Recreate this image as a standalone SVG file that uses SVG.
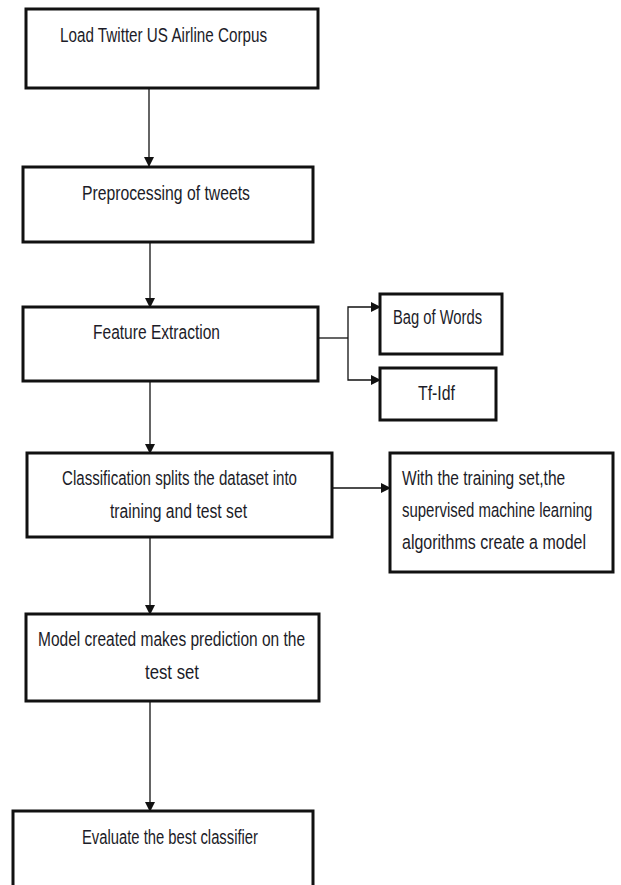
<svg xmlns="http://www.w3.org/2000/svg" width="621" height="885" viewBox="0 0 621 885">
<defs>
<style>
.box{fill:#fff;stroke:#111;stroke-width:3}
.t{font-family:"Liberation Sans",Arial,sans-serif;font-size:19.5px;fill:#1c1c28}
.c{fill:none;stroke:#111;stroke-width:1.3}
</style>
<marker id="ah" markerWidth="10" markerHeight="11" refX="9" refY="5.5" orient="auto" markerUnits="userSpaceOnUse">
<path d="M0,0.5 L10,5.5 L0,10.5 Z" fill="#111"/>
</marker>
</defs>
<rect width="621" height="885" fill="#fff"/>
<g id="connectors">
<line class="c" x1="149" y1="88" x2="149" y2="166" marker-end="url(#ah)"/>
<line class="c" x1="150" y1="242" x2="150" y2="307" marker-end="url(#ah)"/>
<line class="c" x1="150" y1="381" x2="150" y2="453" marker-end="url(#ah)"/>
<polyline class="c" points="318,338 348,338"/>
<polyline class="c" points="348,338 348,307 380,307" marker-end="url(#ah)"/>
<polyline class="c" points="348,338 348,380 380,380" marker-end="url(#ah)"/>
<line class="c" x1="332" y1="488" x2="390" y2="488" marker-end="url(#ah)"/>
<line class="c" x1="150" y1="537" x2="150" y2="614" marker-end="url(#ah)"/>
<line class="c" x1="150" y1="701" x2="150" y2="811" marker-end="url(#ah)"/>
</g>
<g id="load">
<rect class="box" x="26" y="9" width="292" height="79"/>
<text class="t" x="60" y="42" textLength="207" lengthAdjust="spacingAndGlyphs">Load  Twitter US Airline Corpus</text>
</g>
<g id="preprocess">
<rect class="box" x="23" y="167" width="290" height="75"/>
<text class="t" x="82" y="200" textLength="168" lengthAdjust="spacingAndGlyphs">Preprocessing of tweets</text>
</g>
<g id="feature">
<rect class="box" x="23" y="307" width="295" height="74"/>
<text class="t" x="93" y="339" textLength="127" lengthAdjust="spacingAndGlyphs">Feature  Extraction</text>
</g>
<g id="bow">
<rect class="box" x="380" y="294" width="122" height="60"/>
<text class="t" x="393" y="324" textLength="89" lengthAdjust="spacingAndGlyphs">Bag of Words</text>
</g>
<g id="tfidf">
<rect class="box" x="380" y="368" width="116" height="52"/>
<text class="t" x="418" y="400" textLength="37" lengthAdjust="spacingAndGlyphs">Tf-Idf</text>
</g>
<g id="classification">
<rect class="box" x="27" y="453" width="305" height="84"/>
<text class="t" x="62" y="485" textLength="235" lengthAdjust="spacingAndGlyphs">Classification splits the dataset into</text>
<text class="t" x="110" y="518" textLength="137" lengthAdjust="spacingAndGlyphs">training and test set</text>
</g>
<g id="training">
<rect class="box" x="390" y="453" width="223" height="119"/>
<g transform="translate(402,0) scale(0.8,1)">
<text class="t" x="0" y="485" textLength="204" lengthAdjust="spacingAndGlyphs">With the training set,the</text>
<text class="t" x="0" y="517" textLength="238" lengthAdjust="spacingAndGlyphs">supervised machine learning</text>
<text class="t" x="0" y="549" textLength="230" lengthAdjust="spacingAndGlyphs">algorithms  create a model</text>
</g>
</g>
<g id="model">
<rect class="box" x="26" y="614" width="293" height="87"/>
<text class="t" x="38" y="646" textLength="267" lengthAdjust="spacingAndGlyphs">Model created makes prediction on the</text>
<text class="t" x="145" y="679" textLength="54" lengthAdjust="spacingAndGlyphs">test  set</text>
</g>
<g id="evaluate">
<rect class="box" x="13" y="811" width="300" height="80"/>
<text class="t" x="82" y="844" textLength="176" lengthAdjust="spacingAndGlyphs">Evaluate the best classifier</text>
</g>
</svg>
